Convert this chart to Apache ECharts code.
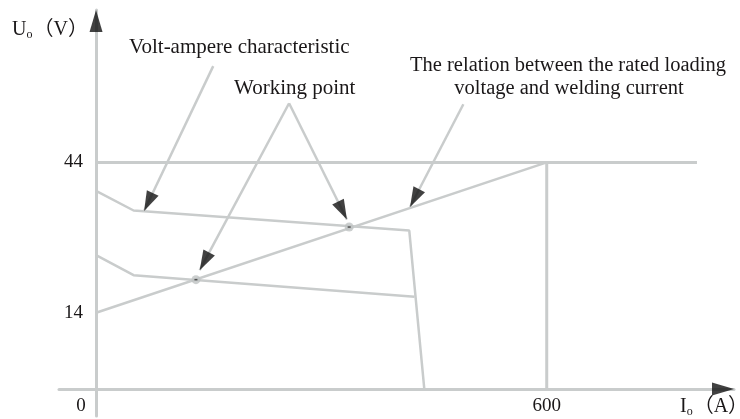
<!DOCTYPE html>
<html>
<head>
<meta charset="utf-8">
<script src="https://cdn.jsdelivr.net/npm/echarts@6/dist/echarts.min.js"></script>
<style>
html, body { margin: 0; padding: 0; background: #fff; }
#chart { width: 740px; height: 419px; }
</style>
</head>
<body>
<div id="chart"></div>
<script>
// current I (A) on x, voltage U (V) on y
const xRange = [-49.3, 849.3]
const yRange = [-6.6, 74.4]
const xTicks = [0, 600]
const yTicks = [14, 44]

const ratedLine = [[0, 14], [600, 44]]
const limitLine = [[0, 44], [800, 44]]
const ratedCurrent = [[600, 44], [600, -1.2]]
const upperCurve = [[0, 38.3], [50, 34.4], [417, 30.4], [437, -1.2]]
const lowerCurve = [[0, 25.5], [50, 21.5], [424, 17.2]]
const workingPoints = [[133, 20.6], [337, 31.1]]

// pointer lines, [from, to]
const pointers = [
  [[156, 63.2], [64, 34.3]],
  [[257, 55.8], [138, 22.5]],
  [[257, 55.8], [334, 32.6]],
  [[489, 55.6], [418, 35.1]]
]
const axisArrows = [
  [[0, 0], [0, 74.4]],
  [[0, -1.2], [849.3, -1.2]]
]

const gray = '#c9cccc'
const ink = '#1a1718'
const serif = "'Liberation Serif', 'Noto Sans CJK SC', serif"

const chart = echarts.init(document.getElementById('chart'))

function lineSeries(data, width) {
  return {
    type: 'line',
    data: data,
    symbol: 'none',
    silent: true,
    lineStyle: { color: gray, width: width || 2.5 },
    z: 2
  }
}

const unitRich = {
  a: { fontFamily: serif, fontSize: 20, fill: ink },
  s: { fontFamily: serif, fontSize: 12, fill: ink, padding: [9, 1, 0, 0] }
}

const option = {
  animation: false,
  grid: { left: 59, right: 6, top: 10, bottom: 3 },
  xAxis: {
    type: 'value',
    min: xRange[0],
    max: xRange[1],
    offset: -27,
    axisLine: { onZero: false, lineStyle: { color: gray, width: 3 } },
    axisTick: { show: false },
    splitLine: { show: false },
    axisLabel: {
      customValues: xTicks,
      margin: 8,
      formatter: v => (v === 0 ? '{l|0}' : '{n|' + v + '}'),
      rich: {
        l: { fontFamily: serif, fontSize: 19, color: ink, padding: [0, 30, 0, 0] },
        n: { fontFamily: serif, fontSize: 19, color: ink }
      }
    }
  },
  yAxis: {
    type: 'value',
    min: yRange[0],
    max: yRange[1],
    axisLine: { onZero: true, lineStyle: { color: gray, width: 3 } },
    axisTick: { show: false },
    splitLine: { show: false },
    axisLabel: {
      customValues: yTicks,
      margin: -24,
      fontFamily: serif,
      fontSize: 19,
      color: ink
    }
  },
  graphic: [
    {
      type: 'text', left: 12, top: 20,
      style: { text: '{a|U}{s|o}{a|（V）}', rich: unitRich }
    },
    {
      type: 'text', left: 680, top: 397,
      style: { text: '{a|I}{s|o}{a|（A）}', rich: unitRich }
    },
    {
      type: 'text', left: 129, top: 37,
      style: { text: 'Volt-ampere characteristic', font: '21px ' + serif, fill: ink }
    },
    {
      type: 'text', left: 234, top: 78,
      style: { text: 'Working point', font: '21px ' + serif, fill: ink }
    },
    {
      type: 'text', x: 568, y: 55,
      style: {
        text: 'The relation between the rated loading',
        font: '20.5px ' + serif, fill: ink, align: 'center', verticalAlign: 'top'
      }
    },
    {
      type: 'text', x: 569, y: 78,
      style: {
        text: 'voltage and welding current',
        font: '20.5px ' + serif, fill: ink, align: 'center', verticalAlign: 'top'
      }
    }
  ],
  series: [
    lineSeries(limitLine, 3),
    lineSeries(ratedLine),
    lineSeries(ratedCurrent, 3),
    lineSeries(upperCurve),
    lineSeries(lowerCurve)
  ].concat(pointers.map(p => lineSeries(p)))
}

chart.setOption(option)

function arrowHeads(list, len, wid) {
  return list.map(([from, to]) => {
    const a = chart.convertToPixel({ gridIndex: 0 }, from)
    const b = chart.convertToPixel({ gridIndex: 0 }, to)
    const dx = b[0] - a[0]
    const dy = b[1] - a[1]
    const d = Math.hypot(dx, dy)
    const c = [b[0] - dx / d * len / 2, b[1] - dy / d * len / 2]
    return {
      value: chart.convertFromPixel({ gridIndex: 0 }, c),
      symbolRotate: Math.atan2(-dy, dx) * 180 / Math.PI - 90,
      symbolSize: [wid, len]
    }
  })
}

option.series.push(
  {
    type: 'scatter',
    symbol: 'triangle',
    data: arrowHeads(pointers, 20, 13).concat(arrowHeads(axisArrows, 22, 13)),
    itemStyle: { color: '#111' },
    silent: true,
    z: 5
  },
  {
    type: 'scatter',
    symbol: 'circle',
    symbolSize: 9,
    data: workingPoints,
    itemStyle: { color: '#bfc3c3' },
    silent: true,
    z: 6
  },
  {
    type: 'scatter',
    symbol: 'rect',
    symbolSize: [3, 1.5],
    data: workingPoints,
    itemStyle: { color: '#333' },
    silent: true,
    z: 7
  }
)
chart.setOption(option)
</script>
</body>
</html>
